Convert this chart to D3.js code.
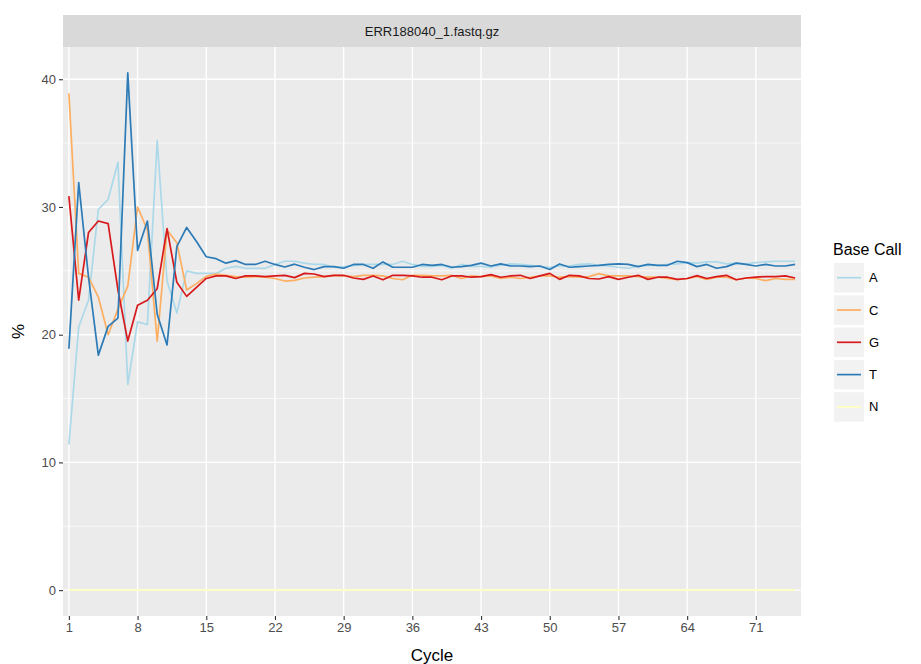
<!DOCTYPE html>
<html>
<head>
<meta charset="utf-8">
<script src="https://cdn.jsdelivr.net/npm/d3@7"></script>
<style>
  body { margin: 0; background: #fff; }
  text { font-family: "Liberation Sans", Arial, sans-serif; }
</style>
</head>
<body>
<script>
// cycles 1..75
const cycles = d3.range(1, 76);
const xTicks = [1, 8, 15, 22, 29, 36, 43, 50, 57, 64, 71];
const yTicks = [0, 10, 20, 30, 40];
const bases = ["A", "C", "G", "T", "N"];
const baseColors = ["#ABD9E9", "#FDAE61", "#D7191C", "#2C7BB6", "#FFFFBF"];

const pctA = [
  11.4, 20.6, 22.7, 29.8, 30.6, 33.5, 16.1, 21.0, 20.8, 35.2, 24.2, 21.7, 25.0, 24.8, 24.8,
  24.8, 25.2, 25.35, 25.2, 25.2, 25.2, 25.5, 25.75, 25.75, 25.6, 25.5, 25.5, 25.28, 25.33, 25.4,
  25.5, 25.5, 25.5, 25.5, 25.75, 25.5, 25.35, 25.35, 25.43, 25.2, 25.5, 25.35, 25.35, 25.28, 25.45,
  25.54, 25.5, 25.43, 25.33, 25.28, 25.38, 25.38, 25.5, 25.54, 25.43, 25.38, 25.28, 25.2, 25.38, 25.43,
  25.43, 25.5, 25.54, 25.64, 25.6, 25.7, 25.7, 25.54, 25.6, 25.54, 25.64, 25.7, 25.75, 25.75, 25.75
];
const pctC = [
  38.9, 24.8, 24.5, 22.95, 20.0, 22.0, 23.8, 30.0, 28.2, 19.5, 28.2, 27.2, 23.5, 24.0, 24.57,
  24.75, 24.65, 24.55, 24.5, 24.55, 24.5, 24.4, 24.2, 24.25, 24.44, 24.5, 24.55, 24.65, 24.6, 24.55,
  24.65, 24.65, 24.6, 24.4, 24.3, 24.65, 24.65, 24.6, 24.6, 24.65, 24.4, 24.6, 24.55, 24.6, 24.4,
  24.5, 24.4, 24.5, 24.6, 24.6, 24.5, 24.55, 24.5, 24.55, 24.78, 24.6, 24.6, 24.6, 24.55, 24.5,
  24.5, 24.4, 24.3, 24.4, 24.55, 24.33, 24.5, 24.5, 24.3, 24.44, 24.4, 24.23, 24.4, 24.33, 24.33
];
const pctG = [
  30.85, 22.7, 28.0, 28.9, 28.7, 23.5, 19.5, 22.3, 22.7, 23.6, 28.3, 24.1, 23.0, 23.7, 24.4,
  24.6, 24.6, 24.4, 24.6, 24.6, 24.55, 24.6, 24.65, 24.47, 24.8, 24.75, 24.55, 24.65, 24.65, 24.44,
  24.33, 24.6, 24.3, 24.65, 24.65, 24.6, 24.5, 24.5, 24.3, 24.6, 24.6, 24.5, 24.55, 24.7, 24.5,
  24.6, 24.65, 24.4, 24.6, 24.8, 24.33, 24.65, 24.6, 24.4, 24.36, 24.55, 24.33, 24.5, 24.65, 24.33,
  24.5, 24.5, 24.33, 24.4, 24.62, 24.4, 24.55, 24.65, 24.3, 24.44, 24.5, 24.55, 24.55, 24.6, 24.44
];
const pctT = [
  18.9, 31.9, 24.5, 18.4, 20.65, 21.3, 40.5, 26.6, 28.9, 21.6, 19.2, 26.9, 28.4, 27.3, 26.1,
  25.95, 25.6, 25.8, 25.5, 25.5, 25.75, 25.5, 25.3, 25.52, 25.28, 25.1, 25.33, 25.33, 25.2, 25.5,
  25.5, 25.2, 25.7, 25.28, 25.28, 25.28, 25.5, 25.43, 25.5, 25.28, 25.33, 25.43, 25.6, 25.38, 25.54,
  25.38, 25.38, 25.33, 25.38, 25.1, 25.54, 25.28, 25.33, 25.38, 25.43, 25.5, 25.54, 25.5, 25.33, 25.5,
  25.43, 25.43, 25.75, 25.64, 25.33, 25.5, 25.2, 25.33, 25.6, 25.5, 25.38, 25.5, 25.38, 25.38, 25.5
];
const pctN = [
  0, 0, 0, 0, 0, 0, 0, 0, 0, 0, 0, 0, 0, 0, 0,
  0, 0, 0, 0, 0, 0, 0, 0, 0, 0, 0, 0, 0, 0, 0,
  0, 0, 0, 0, 0, 0, 0, 0, 0, 0, 0, 0, 0, 0, 0,
  0, 0, 0, 0, 0, 0, 0, 0, 0, 0, 0, 0, 0, 0, 0,
  0, 0, 0, 0, 0, 0, 0, 0, 0, 0, 0, 0, 0, 0, 0
];
const stripLabel = "ERR188040_1.fastq.gz";

const series = [pctA, pctC, pctG, pctT, pctN];

const width = 921, height = 664;
const panel = { left: 63, right: 801, top: 47, bottom: 616 };

const svg = d3.select("body").append("svg")
    .attr("width", width)
    .attr("height", height);

const x = d3.scalePoint()
    .domain(cycles)
    .range([panel.left, panel.right])
    .padding(0.6);

const allVals = series.flat();
const yMin = d3.min(allVals), yMax = d3.max(allVals);
const pad = (yMax - yMin) * 0.05;
const y = d3.scaleLinear()
    .domain([yMin - pad, yMax + pad])
    .range([panel.bottom, panel.top]);

// panel background
svg.append("rect")
    .attr("x", panel.left).attr("y", panel.top)
    .attr("width", panel.right - panel.left)
    .attr("height", panel.bottom - panel.top)
    .attr("fill", "#EBEBEB");

// strip
svg.append("rect")
    .attr("x", panel.left).attr("y", 15)
    .attr("width", panel.right - panel.left)
    .attr("height", panel.top - 15)
    .attr("fill", "#D9D9D9");
svg.append("text")
    .attr("x", (panel.left + panel.right) / 2)
    .attr("y", 31)
    .attr("dy", "0.35em")
    .attr("text-anchor", "middle")
    .attr("font-size", 13)
    .attr("fill", "#1A1A1A")
    .text(stripLabel);

// grid lines
const minorY = [5, 15, 25, 35];
svg.append("g").selectAll("line")
    .data(minorY).join("line")
    .attr("x1", panel.left).attr("x2", panel.right)
    .attr("y1", d => y(d)).attr("y2", d => y(d))
    .attr("stroke", "#fff").attr("stroke-width", 0.7);
svg.append("g").selectAll("line")
    .data(yTicks).join("line")
    .attr("x1", panel.left).attr("x2", panel.right)
    .attr("y1", d => y(d)).attr("y2", d => y(d))
    .attr("stroke", "#fff").attr("stroke-width", 1.4);
svg.append("g").selectAll("line")
    .data(xTicks).join("line")
    .attr("x1", d => x(d)).attr("x2", d => x(d))
    .attr("y1", panel.top).attr("y2", panel.bottom)
    .attr("stroke", "#fff").attr("stroke-width", 1.4);

// lines
const line = d3.line()
    .x((d, i) => x(cycles[i]))
    .y(d => y(d));

svg.append("g").selectAll("path")
    .data(series).join("path")
    .attr("d", d => line(d))
    .attr("fill", "none")
    .attr("stroke", (d, i) => baseColors[i])
    .attr("stroke-width", 1.7)
    .attr("stroke-linejoin", "round");

// axes
const xAxis = svg.append("g")
    .attr("transform", `translate(0,${panel.bottom})`)
    .call(d3.axisBottom(x).tickValues(xTicks).tickSize(4).tickPadding(3));
const yAxis = svg.append("g")
    .attr("transform", `translate(${panel.left},0)`)
    .call(d3.axisLeft(y).tickValues(yTicks).tickSize(4).tickPadding(3));

[xAxis, yAxis].forEach(g => {
    g.select(".domain").remove();
    g.selectAll(".tick line").attr("stroke", "#333").attr("stroke-width", 1.1);
    g.selectAll(".tick text")
        .attr("fill", "#4D4D4D")
        .attr("font-size", 13)
        .style("font-family", '"Liberation Sans", Arial, sans-serif');
});

svg.append("text")
    .attr("x", (panel.left + panel.right) / 2)
    .attr("y", 661)
    .attr("text-anchor", "middle")
    .attr("font-size", 17)
    .attr("fill", "#000")
    .text("Cycle");

svg.append("text")
    .attr("transform", `translate(24,${(panel.top + panel.bottom) / 2}) rotate(-90)`)
    .attr("text-anchor", "middle")
    .attr("font-size", 17)
    .attr("fill", "#000")
    .text("%");

// legend
const legend = svg.append("g").attr("transform", "translate(834,263)");
legend.append("text")
    .attr("x", -1).attr("y", -8)
    .attr("font-size", 16)
    .attr("fill", "#000")
    .text("Base Call");

const keys = legend.selectAll("g.key")
    .data(bases).join("g")
    .attr("class", "key")
    .attr("transform", (d, i) => `translate(0,${i * 32.3})`);
keys.append("rect")
    .attr("width", 30).attr("height", 29.5)
    .attr("fill", "#F2F2F2");
keys.append("line")
    .attr("x1", 3).attr("x2", 27)
    .attr("y1", 14.7).attr("y2", 14.7)
    .attr("stroke", (d, i) => baseColors[i])
    .attr("stroke-width", 1.7);
keys.append("text")
    .attr("x", 35).attr("y", 14.7)
    .attr("dy", "0.35em")
    .attr("font-size", 13)
    .attr("fill", "#000")
    .text(d => d);
</script>
</body>
</html>
